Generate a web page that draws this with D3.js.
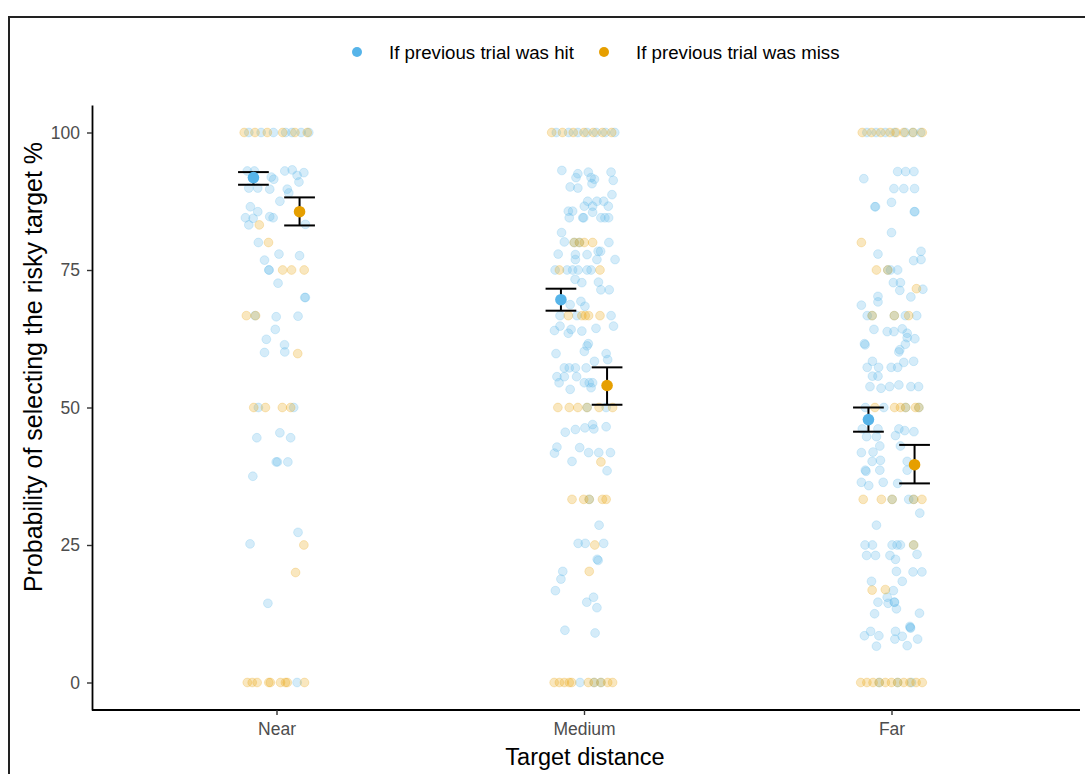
<!DOCTYPE html>
<html>
<head>
<meta charset="utf-8">
<script src="https://cdn.jsdelivr.net/npm/d3@7/dist/d3.min.js"></script>
<style>
  body { margin: 0; background: #fff; }
  svg { display: block; font-family: "Liberation Sans", Arial, sans-serif; }
</style>
</head>
<body>
<div id="chart"></div>
<script>
// categories on the x axis
const categories = ['Near', 'Medium', 'Far'];
const groups = ['If previous trial was hit', 'If previous trial was miss'];
const yTicks = [0, 25, 50, 75, 100];

// condition means with error bar limits (per category)
const hitMean = [91.8, 69.6, 47.8];
const hitLow = [90.5, 67.6, 45.6];
const hitHigh = [92.8, 71.6, 50.0];
const missMean = [85.6, 54.0, 39.6];
const missLow = [83.1, 50.5, 36.2];
const missHigh = [88.2, 57.3, 43.2];

// participant values: [probability %, jitter in hundredths of a category step]
const nearHit = [
  [100, -9], [100, -5], [100, -1], [100, 3], [100, 5], [100, 8], [100, 10.5],
  [93.0, 2.7], [93.2, 5.1], [92.2, 6.7], [92.7, 8.9], [91.0, 7.3], [91.9, -1.7], [91.5, -0.9],
  [89.9, -9.0], [89.9, -6.1], [89.7, -2.2], [93.0, -9.5], [93.0, -7.2], [89.7, 3.5], [89.0, 4.0],
  [87.5, 1.1], [86.5, -8.5], [85.6, -6.1], [84.5, -10.1], [84.4, -7.6], [84.7, -2.2], [84.5, -1.1],
  [83.2, -9.0], [83.3, 9.4], [80.0, -5.9], [77.9, 0.8], [77.6, 7.5], [76.8, -3.9], [75, -2.5],
  [75, -2.4], [72.6, 0.5], [70, 9.2], [70, 9.4], [66.7, -7.0], [66.5, -0.1], [66.6, 7.0],
  [64.2, -0.4], [62.4, -3.3], [61.4, 2.6], [60.0, -3.9], [60.1, 2.7], [50, -5.9], [50, 5.6],
  [44.5, -6.4], [45.4, 1.1], [44.5, 4.6], [40.1, -0.1], [40.1, 0.3], [40.1, 3.7], [37.5, -7.7],
  [27.3, 7.0], [25.2, -8.6], [14.4, -2.8], [0, 6.7]
];
const nearMiss = [
  [100, -10.5], [100, -7], [100, -3], [100, 2], [100, 6], [100, 10],
  [83.2, -5.6], [80.0, -2.6], [75, 2.0], [75, 4.9], [75, 9.0], [66.7, -9.8], [66.7, -6.8],
  [59.8, 6.9], [50, -7.4], [50, -3.6], [50, 1.9], [50, 4.6], [25.0, 8.9], [20.0, 6.2],
  [0, -9.5], [0, -7.9], [0, -6.3], [0, -2.5], [0, -2.0], [0, 1.3], [0, 2.9], [0, 3.5], [0, 9.1]
];
const mediumHit = [
  [100, -9], [100, -5], [100, -2], [100, 1], [100, 4], [100, 7], [100, 10],
  [93.1, -7.2], [92.5, -2.0], [92.8, 1.4], [92.8, 8.8], [91.8, -2.6], [91.8, 2.3], [91.5, 3.4],
  [91.3, 9.5], [90.7, 2.6], [90.1, -4.5], [89.9, -2.0], [88.7, 9.1], [87.5, 1.2], [87.5, 4.2],
  [87.5, 6.4], [86.6, 0.1], [86.6, 2.8], [86.6, 7.9], [85.7, -5.1], [85.7, -3.7], [85.5, 2.8],
  [84.5, -4.8], [84.5, -0.4], [84.5, -0.1], [84.5, 5.5], [84.5, 6.8], [84.5, 8.0], [81.8, -7.3],
  [80.1, -6.4], [80.0, 8.1], [80.0, -3.2], [80.0, -1.5], [78.4, 4.6], [78.4, 5.4], [77.9, -8.4],
  [77.8, -2.8], [76.9, -2.8], [77.8, 1.0], [76.9, 4.2], [76.9, 10.1], [75, -9.4], [75, -5.5],
  [75, -3.7], [75, -1.9], [75, 1.0], [75, 2.3], [73.3, -2.9], [72.7, -0.7], [72.8, 4.7],
  [71.4, 5.5], [71.4, 8.2], [69.3, -1.0], [68.4, 0.3], [68.7, -4.5], [66.7, -7.8], [66.7, -2.3],
  [66.7, 8.8], [64.0, -9.6], [64.8, -7.8], [63.5, -5.1], [64.2, -4.2], [63.9, -0.7], [64.4, 3.9],
  [64.8, 9.6], [61.6, 1.4], [61.2, 1.0], [60.2, 0.1], [59.8, -9.1], [59.8, 7.2], [58.7, 7.7],
  [58.4, 3.4], [57.2, -6.4], [57.2, -4.8], [57.2, -2.8], [57.2, 0.7], [55.6, -8.8], [55.6, -6.4],
  [55.6, -2.4], [54.5, -8.1], [54.5, 0.1], [54.5, 1.7], [54.5, 2.8], [53.3, -4.5], [53.6, 2.3],
  [50, 7.2], [50, 1.0], [45.5, -6.1], [46.0, -2.8], [46.3, 0.3], [46.9, 2.8], [46.1, 3.2],
  [46.5, 7.2], [42.8, -8.8], [41.7, -9.6], [42.7, -1.4], [41.8, 1.5], [41.8, 4.8], [41.8, 8.6],
  [40.2, -3.9], [38.5, 7.5], [33.3, 1.7], [28.6, 4.9], [25.3, -1.9], [25.3, 0.4], [25.3, 6.4],
  [22.4, 4.3], [22.2, 4.6], [20.2, -6.9], [18.8, -7.5], [16.7, -9.3], [15.5, 3.1], [14.6, 0.9],
  [13.6, 4.2], [9.5, -6.2], [9.0, 3.6], [0, -1.3], [0, 3.3], [0, 5.5]
];
const mediumMiss = [
  [100, -10.5], [100, -7], [100, -3.5], [100, 0], [100, 3], [100, 6], [100, 9],
  [80, -3.2], [80, -1.5], [80, 0.1], [80, 2.8], [75, -8.0], [75, 5.2], [66.7, -5.1],
  [66.7, -0.7], [66.7, 0.4], [66.7, 1.5], [66.7, 5.2], [50, -8.5], [50, -4.8], [50, -2.0],
  [50, 1.0], [50, 4.9], [50, 9.3], [40.1, 5.5], [33.3, -3.9], [33.3, -0.1], [33.3, 1.7],
  [33.3, 6.0], [33.3, 7.2], [25, 3.5], [20.2, 1.7],
  [0, -9.7], [0, -8.0], [0, -6.4], [0, -4.8], [0, -4.0], [0, 1.4], [0, 3.3], [0, 5.5], [0, 7.7], [0, 9.3]
];
const farHit = [
  [100, -8], [100, -5], [100, -2], [100, 1], [100, 4.5], [100, 7], [100, 9.5],
  [92.9, 2.0], [92.9, 4.6], [92.9, 7.3], [91.6, -9.0], [89.8, 0.8], [89.8, 4.0], [89.8, 7.5],
  [86.5, -5.4], [86.5, -5.2], [87.3, 0], [85.6, 7.6], [85.6, 7.4], [81.8, 0], [77.9, -4.4],
  [78.4, 9.6], [76.7, 7.2], [76.9, 9.6], [75, -1.2], [75, -0.3], [75, 2.0], [72.7, 0.6],
  [72.7, 2.9], [71.3, 2.7], [71.5, 10.2], [70.1, 6.3], [70.2, -4.4], [69.2, -4.4], [68.6, -9.8],
  [66.7, -7.9], [66.7, -6.3], [66.7, 0.9], [66.7, 4.5], [66.7, 8.2], [64.2, -5.7], [63.8, -1.4],
  [63.8, 0.8], [64.3, 3.5], [63.5, 5.1], [61.6, -8.8], [61.4, -8.6], [62.7, 5.1], [62.5, 7.6],
  [61.5, 4.5], [60.1, 2.4], [60.5, 2.7], [58.4, -6.2], [57.3, -7.9], [57.3, -4.2], [57.3, -0.1],
  [57.3, 2.0], [58.2, 4.0], [58.4, 7.2], [55.7, -6.2], [55.7, -4.4], [53.8, -7.0], [53.5, -3.4],
  [53.8, -0.6], [54.1, 2.4], [53.8, 6.3], [53.8, 8.8], [50, -2.5], [50, 4.6], [50, 8.9],
  [50, -8.5], [46.1, -9.5], [46.1, -4.4], [46.1, 2.4], [45.8, 4.3], [45.6, 7.3], [44.7, -8.1],
  [44.7, -4.9], [44.9, 1.3], [43.0, -3.8], [41.9, -6.0], [41.8, -9.8], [43.0, 2.9], [40.2, -6.3],
  [40.4, -3.6], [40.2, 5.1], [38.6, 5.1], [38.6, -8.5], [38.4, -8.3], [38.6, -3.8], [36.4, -9.8],
  [35.8, -7.4], [36.4, -2.7], [36.2, 2.0], [33.3, 0.2], [33.3, 5.6], [33.3, 7.2], [30.8, 9.2],
  [28.6, -4.9], [25, -8.6], [25, -6.2], [25, 0.2], [25, 1.8], [25, 2.9], [25, 7.2],
  [23.1, -8.1], [23.1, -5.2], [23.1, -0.5], [22.4, 1.3], [23.3, 8.3], [20.2, 1.6], [20.1, 7.0],
  [20.1, 9.9], [18.4, 3.5], [18.4, -6.5], [16.7, 0.6], [15.5, -1.4], [14.4, -1.1], [13.4, 1.6],
  [14.6, 1.0], [14.6, 0.9], [14.6, -4.4], [12.5, -5.5], [12.6, 9.1], [8.5, -8.8], [9.3, -6.8],
  [8.5, -4.1], [6.6, -4.9], [9.3, 1.3], [7.9, 1.1], [8.4, 3.5], [10.2, 6.0], [10.0, 6.1],
  [9.9, 6.2], [6.7, 5.1], [7.9, 8.5], [0, -4], [0, 2], [0, 6.5]
];
const farMiss = [
  [100, -9.5], [100, -6.5], [100, -3.5], [100, -0.5], [100, 1.5], [100, 4], [100, 7], [100, 10],
  [80.0, -9.8], [75, -4.9], [75, -1.2], [71.6, 8.1], [66.7, -6.3], [66.7, 0.9], [66.7, 5.6],
  [50, -5.4], [50, 1.0], [50, 2.9], [50, 4.6], [50, 7.8], [50, 8.9], [33.3, -9.2],
  [33.3, -3.3], [33.3, 0.2], [33.3, 7.2], [33.3, 9.9], [25, 7.2], [16.8, -6.3], [16.9, -2.0],
  [0, -10], [0, -8], [0, -6], [0, -4], [0, -2], [0, 0], [0, 2], [0, 4], [0, 6], [0, 8], [0, 10]
];

const colors = ['#56B4E9', '#E69F00'];

const width = 1085, height = 774;
const margin = { top: 105, right: 5, bottom: 64, left: 92 };

const svg = d3.select('#chart').append('svg')
  .attr('width', width)
  .attr('height', height);

// outer frame of the figure
svg.append('rect')
  .attr('x', 9).attr('y', 17)
  .attr('width', width + 20).attr('height', height + 20)
  .attr('fill', 'none')
  .attr('stroke', '#222')
  .attr('stroke-width', 2);

const x = d3.scaleLinear()
  .domain([0.4, categories.length + 0.6])
  .range([margin.left, 1076]);
const y = d3.scaleLinear()
  .domain([-5, 105])
  .range([height - margin.bottom, margin.top]);

const dodge = 0.075;
const barHalf = 0.05;

// jittered participant points
const raw = [
  { cat: 0, g: 0, pts: nearHit }, { cat: 0, g: 1, pts: nearMiss },
  { cat: 1, g: 0, pts: mediumHit }, { cat: 1, g: 1, pts: mediumMiss },
  { cat: 2, g: 0, pts: farHit }, { cat: 2, g: 1, pts: farMiss },
];
const points = [];
raw.forEach(r => r.pts.forEach(p => points.push({ cat: r.cat, g: r.g, v: p[0], j: p[1] / 100 })));

svg.append('g').selectAll('circle')
  .data(points)
  .join('circle')
    .attr('cx', d => x(d.cat + 1 + d.j))
    .attr('cy', d => y(d.v))
    .attr('r', 4.4)
    .attr('fill', d => colors[d.g])
    .attr('fill-opacity', 0.25)
    .attr('stroke', d => colors[d.g])
    .attr('stroke-opacity', 0.22)
    .attr('stroke-width', 1);

// axes
const yAxis = d3.axisLeft(y).tickValues(yTicks).tickSize(5).tickSizeOuter(0);
const xAxis = d3.axisBottom(x).tickValues([1, 2, 3])
  .tickFormat(i => categories[i - 1]).tickSize(5).tickSizeOuter(0);

const yG = svg.append('g')
  .attr('transform', `translate(${margin.left},0)`)
  .call(yAxis);
const xG = svg.append('g')
  .attr('transform', `translate(0,${height - margin.bottom})`)
  .call(xAxis);

// x axis line runs on to the right edge
xG.select('.domain').attr('d', `M${margin.left},0H${width - margin.right}`);

[yG, xG].forEach(g => {
  g.select('.domain').attr('stroke', '#000').attr('stroke-width', 1.8);
  g.selectAll('.tick line').attr('stroke', '#333').attr('stroke-width', 1.4);
  g.selectAll('.tick text')
    .attr('fill', '#4D4D4D')
    .style('font-size', '17.5px')
    .style('font-family', '"Liberation Sans", Arial, sans-serif');
});
yG.selectAll('.tick text').attr('x', -12);
xG.selectAll('.tick text').attr('y', 13);

// error bars and means
const summary = [];
categories.forEach((c, i) => {
  summary.push({ cat: i, g: 0, m: hitMean[i], lo: hitLow[i], hi: hitHigh[i] });
  summary.push({ cat: i, g: 1, m: missMean[i], lo: missLow[i], hi: missHigh[i] });
});
const cx = d => d.cat + 1 + (d.g === 0 ? -dodge : dodge);

const eb = svg.append('g').selectAll('g')
  .data(summary)
  .join('g')
    .attr('stroke', '#000')
    .attr('stroke-width', 2);
eb.append('line')
  .attr('x1', d => x(cx(d))).attr('x2', d => x(cx(d)))
  .attr('y1', d => y(d.lo)).attr('y2', d => y(d.hi));
eb.append('line')
  .attr('x1', d => x(cx(d) - barHalf)).attr('x2', d => x(cx(d) + barHalf))
  .attr('y1', d => y(d.lo)).attr('y2', d => y(d.lo));
eb.append('line')
  .attr('x1', d => x(cx(d) - barHalf)).attr('x2', d => x(cx(d) + barHalf))
  .attr('y1', d => y(d.hi)).attr('y2', d => y(d.hi));

svg.append('g').selectAll('circle')
  .data(summary)
  .join('circle')
    .attr('cx', d => x(cx(d)))
    .attr('cy', d => y(d.m))
    .attr('r', 5.8)
    .attr('fill', d => colors[d.g]);

// axis titles
svg.append('text')
  .attr('x', 585)
  .attr('y', 765)
  .attr('text-anchor', 'middle')
  .style('font-size', '23.5px')
  .attr('fill', '#000')
  .text('Target distance');

svg.append('text')
  .attr('transform', 'translate(42,367) rotate(-90)')
  .attr('text-anchor', 'middle')
  .style('font-size', '25px')
  .attr('fill', '#000')
  .text('Probability of selecting the risky target %');

// legend
const legendX = [357, 604];
const legend = svg.append('g').selectAll('g')
  .data(groups)
  .join('g')
    .attr('transform', (d, i) => `translate(${legendX[i]},52)`);
legend.append('circle')
  .attr('r', 5)
  .attr('fill', (d, i) => colors[i]);
legend.append('text')
  .attr('x', 32)
  .attr('dy', '0.35em')
  .style('font-size', '18.7px')
  .attr('fill', '#000')
  .text(d => d);
</script>
</body>
</html>
